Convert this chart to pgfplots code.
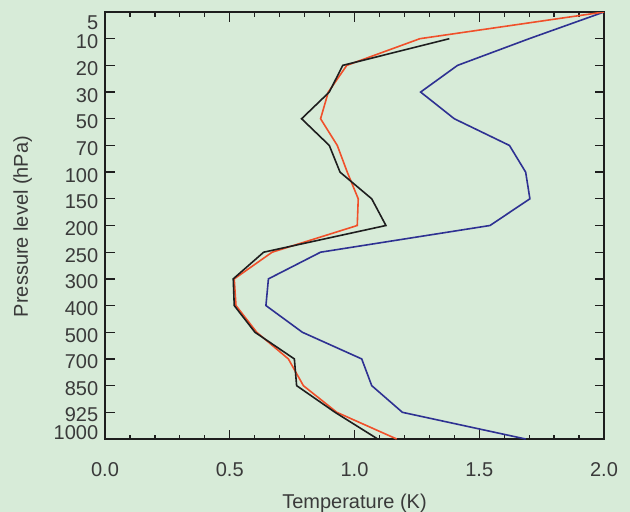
\documentclass[border=0pt]{standalone}
\usepackage{pgfplots}
\pgfplotsset{compat=1.18}
\usepackage{fontspec}
\setmainfont{Liberation Sans}
\usetikzlibrary{backgrounds}
\definecolor{bg}{HTML}{D7EBD8}
\definecolor{txt}{HTML}{3A3A3A}
\definecolor{cred}{HTML}{F0502A}
\definecolor{cblue}{HTML}{2E3192}
\definecolor{cblack}{HTML}{1E1E1E}
\newcommand\yl[2]{\raisebox{#1}[0pt][0pt]{#2}}
\pgfplotstableread{
x y
2.000 0
1.700 1
1.413 2
1.265 3
1.400 4
1.621 5
1.686 6
1.703 7
1.543 8
0.864 9
0.655 10
0.645 11
0.791 12
1.029 13
1.069 14
1.192 15
1.686 16
}\blueT
\pgfplotstableread{
x y
2.000 0
1.262 1
0.969 2
0.895 3
0.864 4
0.931 5
0.971 6
1.015 7
1.011 8
0.670 9
0.518 10
0.525 11
0.608 12
0.735 13
0.795 14
0.929 15
1.169 16
}\redT
\pgfplotstableread{
x y
1.380 1
0.953 2
0.899 3
0.788 4
0.899 5
0.942 6
1.069 7
1.126 8
0.636 9
0.514 10
0.518 11
0.601 12
0.759 13
0.768 14
0.922 15
1.093 16
}\blackT
\begin{document}
\fontsize{20bp}{24bp}\selectfont
\begin{tikzpicture}
\begin{axis}[
  scale only axis, width=499bp, height=427bp,
  xmin=0, xmax=2, ymin=0, ymax=16, y dir=reverse,
  xtick={0,0.5,1,1.5,2}, xticklabels={0.0,0.5,1.0,1.5,2.0},
  minor x tick num=4,
  ytick={0,...,16},
  yticklabels={\yl{-17.5bp}{5},\yl{-10bp}{10},\yl{-10bp}{20},\yl{-10bp}{30},\yl{-10bp}{50},\yl{-10bp}{70},\yl{-10bp}{100},\yl{-10bp}{150},\yl{-10bp}{200},\yl{-10bp}{250},\yl{-10bp}{300},\yl{-10bp}{400},\yl{-10bp}{500},\yl{-10bp}{700},\yl{-10bp}{850},\yl{-8.7bp}{925},\yl{-0.5bp}{1000}},
  tick align=inside, major tick length=9.5bp, minor tick length=4.5bp,
  every tick/.style={cblack, line width=1.3bp},
  axis line style={cblack, line width=1.7bp},
  tick label style={text=txt, font=\fontsize{20bp}{24bp}\selectfont},
  xticklabel style={anchor=base, yshift=-37.7bp},
  yticklabel style={anchor=east},
  axis background/.style={fill=bg},
]
\addplot[cblue, line width=1.6bp] table {\blueT};
\addplot[cred, line width=1.6bp] table {\redT};
\addplot[cblack, line width=1.6bp] table {\blackT};
\coordinate (tl) at (axis cs:0,0);
\coordinate (br) at (axis cs:2,16);
\end{axis}
\node[anchor=base, text=txt, font=\fontsize{20bp}{24bp}\selectfont] at ([shift={(-249.5bp,-69bp)}]br) {Temperature (K)};
\node[anchor=base, rotate=90, text=txt, font=\fontsize{20bp}{24bp}\selectfont] at ([shift={(-77bp,-214.5bp)}]tl) {Pressure level (hPa)};
\pgfresetboundingbox
\path[use as bounding box] ([shift={(-105bp,12bp)}]tl) rectangle ([shift={(26bp,-73bp)}]br);
\begin{scope}[on background layer]
\fill[bg] ([shift={(-105bp,12bp)}]tl) rectangle ([shift={(26bp,-73bp)}]br);
\end{scope}
\end{tikzpicture}
\end{document}
